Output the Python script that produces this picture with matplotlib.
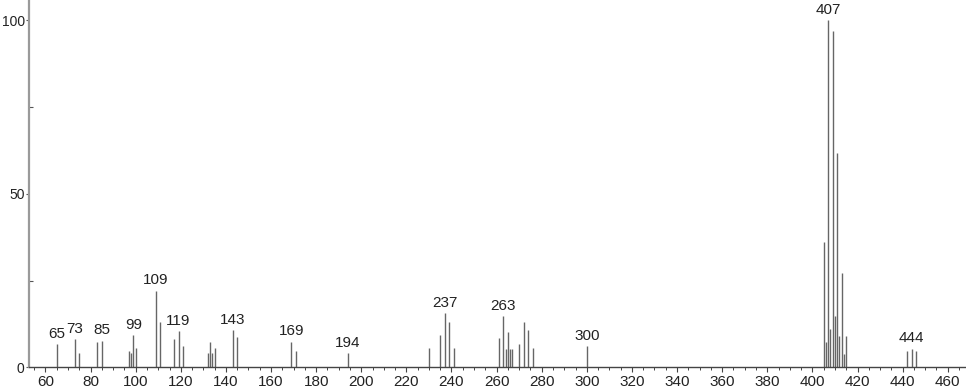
#!/usr/bin/env python3
"""Mass spectrum stick plot (relative intensity vs m/z)."""

import matplotlib

matplotlib.use("Agg")
import matplotlib.pyplot as plt
from matplotlib.ticker import MultipleLocator

# m/z values and relative intensities
MASSES = [
    65, 73, 75, 83, 85, 97, 98, 99, 100, 109, 111, 117, 119, 121,
    132, 133, 134, 135, 143, 145, 169, 171, 194,
    230, 235, 237, 239, 241,
    261, 263, 264, 265, 266, 267, 270, 272, 274, 276, 300,
    405, 406, 407, 408, 409, 410, 411, 412, 413, 414, 415,
    442, 444, 446,
]
INTENSITIES = [
    6.6, 8.1, 4.0, 7.3, 7.6, 4.8, 4.0, 9.2, 5.6, 22.0, 13.1, 8.2, 10.4, 6.2,
    4.0, 7.3, 4.0, 5.6, 10.7, 8.6, 7.3, 4.8, 4.0,
    5.6, 9.3, 15.6, 13.1, 5.6,
    8.5, 14.7, 5.2, 10.3, 5.2, 5.2, 6.7, 13.1, 10.7, 5.6, 6.1,
    36.2, 7.4, 100.0, 11.1, 97.0, 14.7, 61.8, 9.1, 27.1, 3.9, 9.1,
    4.6, 5.4, 4.6,
]
LABELED = [65, 73, 85, 99, 109, 119, 143, 169, 194, 237, 263, 300, 407, 444]

BAR = "#666666"
TEXT = "#222222"

plt.rcParams.update({
    "font.family": ["Liberation Sans", "DejaVu Sans"],
    "font.size": 11,
})

fig = plt.figure(figsize=(9.66, 3.89), dpi=100)
ax = fig.add_axes([0.030, 0.0558, 0.970, 0.9442])

ax.vlines(MASSES, 0, INTENSITIES, color=BAR, linewidth=1.0, zorder=2)

height_of = dict(zip(MASSES, INTENSITIES))
for mz in LABELED:
    ax.annotate(
        str(mz),
        xy=(mz, height_of[mz]),
        xytext=(0, 2.5),
        textcoords="offset points",
        ha="center",
        va="bottom",
        fontsize=11,
        color=TEXT,
    )

ax.set_xlim(52.7, 468.1)
ax.set_ylim(0, 105.8)
ax.xaxis.set_minor_locator(MultipleLocator(5))
ax.set_xticks(range(60, 461, 20))
ax.set_yticks([0, 50, 100])
ax.set_yticks([25, 75], minor=True)

for side in ("top", "right"):
    ax.spines[side].set_visible(False)
ax.spines["left"].set_color("#9a9a9a")
ax.spines["left"].set_linewidth(1.6)
ax.spines["bottom"].set_color("#444444")
ax.spines["bottom"].set_linewidth(1.0)

ax.tick_params(axis="x", which="major", length=3.5, width=0.8, colors="#444444",
               labelcolor=TEXT, labelsize=11, pad=2)
ax.tick_params(axis="x", which="minor", length=2, width=0.7, colors="#444444")
ax.tick_params(axis="y", which="major", length=2.5, width=0.8, colors="#555555",
               labelcolor=TEXT, labelsize=10, pad=0.6)
ax.tick_params(axis="y", which="minor", direction="in", length=3, width=0.8,
               colors="#555555")

fig.savefig("out.png", dpi=100, facecolor="white")
